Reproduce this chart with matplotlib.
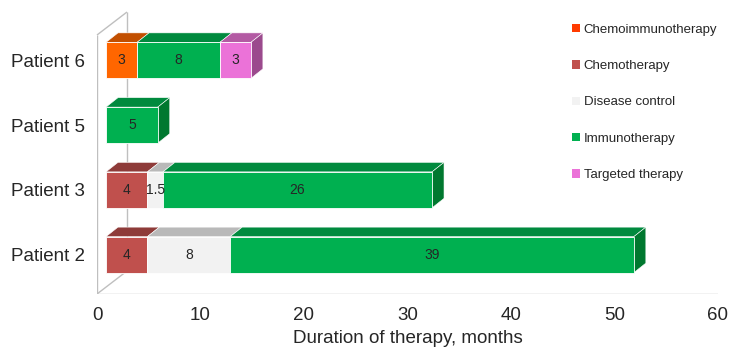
import matplotlib
matplotlib.use("Agg")
import matplotlib.pyplot as plt
from matplotlib.patches import Polygon, Patch
import numpy as np

plt.rcParams["font.family"] = ["Liberation Sans", "DejaVu Sans"]

# Therapy durations (months) per patient, stacked in series order
patients = ["Patient 2", "Patient 3", "Patient 5", "Patient 6"]
series_names = ["Chemoimmunotherapy", "Chemotherapy", "Disease control",
                "Immunotherapy", "Targeted therapy"]
chemoimmunotherapy = [0, 0, 0, 3]
chemotherapy = [4, 4, 0, 0]
disease_control = [8, 1.5, 0, 0]
immunotherapy = [39, 26, 5, 8]
targeted_therapy = [0, 0, 0, 3]
series_values = [chemoimmunotherapy, chemotherapy, disease_control,
                 immunotherapy, targeted_therapy]

x_ticks = [0, 10, 20, 30, 40, 50, 60]
x_label = "Duration of therapy, months"

# Face shading for the 3D look: front, top, side
front_colors = ["#FF6600", "#C0504D", "#F2F2F2", "#00B050", "#EB72D8"]
top_colors = ["#C24F00", "#8E3B39", "#B9B9B9", "#008A3E", "#B35AA3"]
side_colors = ["#A84400", "#7A3230", "#A0A0A0", "#00782F", "#9B4A8D"]
legend_colors = ["#FF3B00", "#C0504D", "#F2F2F2", "#00B050", "#EB72D8"]

W, H = 731, 348
fig = plt.figure(figsize=(W / 100, H / 100), dpi=100)
ax_l, ax_r, ax_t, ax_b = 97, 718, 35, 294
ax = fig.add_axes([ax_l / W, (H - ax_b) / H, (ax_r - ax_l) / W, (ax_b - ax_t) / H])
ax.set_xlim(0, 60)
ax.set_ylim(-0.5, 3.5)

# pixel -> data unit conversion for depth offsets
ux = 60 / (ax_r - ax_l)
uy = 4 / (ax_b - ax_t)
fx, fy = 9 * ux, 7 * uy          # front plane of the bars
dx, dy = 12 * ux, 9.5 * uy       # bar depth
wx, wy = 30 * ux, 23 * uy        # side wall depth

wall = dict(color="#BFBFBF", lw=1.0, zorder=1, solid_capstyle="butt")
ax.plot([0, 0], [-0.5, 3.5], **wall)
ax.plot([wx, wx], [-0.5 + wy, 3.5 + wy], clip_on=False, **wall)
ax.plot([0, wx], [3.5, 3.5 + wy], clip_on=False, **wall)
ax.plot([0, wx], [-0.5, -0.5 + wy], **wall)
ax.plot([0, 60], [-0.5, -0.5], **wall)

bar_h = 0.556
ypos = np.arange(len(patients))
lefts = np.zeros(len(patients))
last_seg = [None] * len(patients)

for s, vals in enumerate(series_values):
    vals = np.asarray(vals, dtype=float)
    mask = vals > 0
    ax.barh(ypos[mask] + fy, vals[mask], left=lefts[mask] + fx, height=bar_h,
            color=front_colors[s], edgecolor="white", linewidth=0.6, zorder=3)
    for i in np.where(mask)[0]:
        l = lefts[i] + fx
        r = l + vals[i]
        top = ypos[i] + fy + bar_h / 2
        ax.add_patch(Polygon([(l, top), (r, top), (r + dx, top + dy), (l + dx, top + dy)],
                             closed=True, facecolor=top_colors[s],
                             edgecolor="white", linewidth=0.4, zorder=2, clip_on=False))
        ax.text((l + r) / 2, ypos[i] + fy, f"{vals[i]:g}", ha="center", va="center",
                fontsize=10, color="#262626", zorder=5)
        last_seg[i] = (s, r)
    lefts = lefts + vals

for i, (s, r) in enumerate(last_seg):
    bot = ypos[i] + fy - bar_h / 2
    top = ypos[i] + fy + bar_h / 2
    ax.add_patch(Polygon([(r, bot), (r, top), (r + dx, top + dy), (r + dx, bot + dy)],
                         closed=True, facecolor=side_colors[s],
                         edgecolor="white", linewidth=0.4, zorder=2, clip_on=False))

for sp in ax.spines.values():
    sp.set_visible(False)
ax.set_yticks(ypos + fy)
ax.set_yticklabels(patients, fontsize=13.5, color="#262626")
ax.set_xticks(x_ticks)
ax.set_xticklabels([str(t) for t in x_ticks], fontsize=13.5, color="#262626")
ax.tick_params(axis="y", length=0, pad=9)
ax.tick_params(axis="x", length=0, pad=9)
ax.set_xlabel(x_label, fontsize=13.5, color="#262626", labelpad=5)

handles = [Patch(facecolor=c, edgecolor="none") for c in legend_colors]
fig.legend(handles, series_names, loc="upper left",
           bbox_to_anchor=(560 / W, 1 - 12 / H), frameon=False, fontsize=9.5,
           handlelength=0.6, handleheight=0.6, handletextpad=0.3,
           labelspacing=1.84, labelcolor="#262626")

fig.savefig("out.png", dpi=100)
